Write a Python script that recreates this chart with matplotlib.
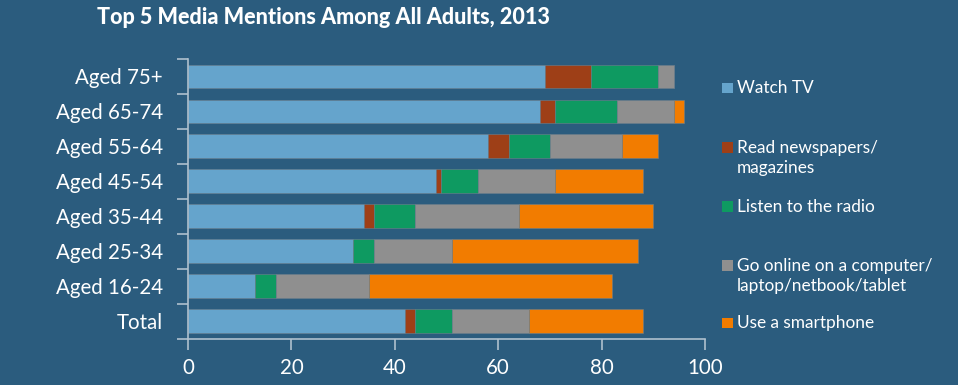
import matplotlib
matplotlib.use("Agg")
import matplotlib.pyplot as plt
import numpy as np
from matplotlib.patches import Rectangle

categories = ["Aged 75+", "Aged 65-74", "Aged 55-64", "Aged 45-54",
              "Aged 35-44", "Aged 25-34", "Aged 16-24", "Total"]
series_names = ["Watch TV", "Read newspapers/\nmagazines", "Listen to the radio",
                "Go online on a computer/\nlaptop/netbook/tablet", "Use a smartphone"]
watch_tv   = [69, 68, 58, 48, 34, 32, 13, 42]
read_news  = [9, 3, 4, 1, 2, 0, 0, 2]
radio      = [13, 12, 8, 7, 8, 4, 4, 7]
online     = [3, 11, 14, 15, 20, 15, 18, 15]
smartphone = [0, 2, 7, 17, 26, 36, 47, 22]
x_ticks = [0, 20, 40, 60, 80, 100]

colors = ["#65A4CC", "#9E3F17", "#0E9A61", "#8F8F8F", "#F27C00"]
bg = "#2B5C7E"
axis_col = "#AFC0CE"

plt.rcParams['font.family'] = ['Lato', 'DejaVu Sans']

fig = plt.figure(figsize=(9.58, 3.85), dpi=100)
fig.patch.set_facecolor(bg)
ax = fig.add_axes([188/958, 1-338.5/385, (705-188)/958, (338.5-59)/385])
ax.set_facecolor(bg)

y = np.arange(len(categories))
left = np.zeros(len(categories))
for vals, col, name in zip([watch_tv, read_news, radio, online, smartphone], colors, series_names):
    v = np.array(vals, dtype=float)
    ax.barh(y, v, left=left, height=0.68, color=col, edgecolor="#6d7f8c",
            linewidth=0.4, label=name)
    left += v

ax.set_ylim(len(categories) - 0.5, -0.5)
ax.set_xlim(0, 100)
ax.set_yticks(y)
ax.set_yticklabels(categories, fontsize=14.8, color="white")
ax.set_yticks(np.arange(-0.5, len(categories), 1), minor=True)
ax.tick_params(axis='y', which='major', length=0, pad=18)
ax.tick_params(axis='y', which='minor', length=8, color=axis_col, width=1.2, direction='out')
ax.set_xticks(x_ticks)
ax.set_xticklabels([str(t) for t in x_ticks], fontsize=14.8, color="white")
ax.tick_params(axis='x', length=8, color=axis_col, width=1.2, direction='out', pad=6)
for s in ['top', 'right']:
    ax.spines[s].set_visible(False)
for s in ['left', 'bottom']:
    ax.spines[s].set_color(axis_col)
    ax.spines[s].set_linewidth(1.2)

# Title
fig.text(97/958, 1-18/385, "Top 5 Media Mentions Among All Adults, 2013",
         fontsize=15.5, fontweight='black', color="white", va='center', ha='left')

# Legend (manual placement)
baselines = [93.3, 152.7, 211.7, 270.7, 328.3]
line_gap = 20.7
for name, col, b in zip(series_names, colors, baselines):
    fig.patches.append(Rectangle((722/958, 1-b/385), 11/958, 10.5/385,
                                 transform=fig.transFigure, facecolor=col,
                                 edgecolor='none'))
    for k, line in enumerate(name.split("\n")):
        fig.text(737/958, 1-(b + k*line_gap)/385, line, fontsize=12.4, color="white",
                 va='baseline', ha='left')

fig.savefig("out.png", dpi=100, facecolor=bg)
